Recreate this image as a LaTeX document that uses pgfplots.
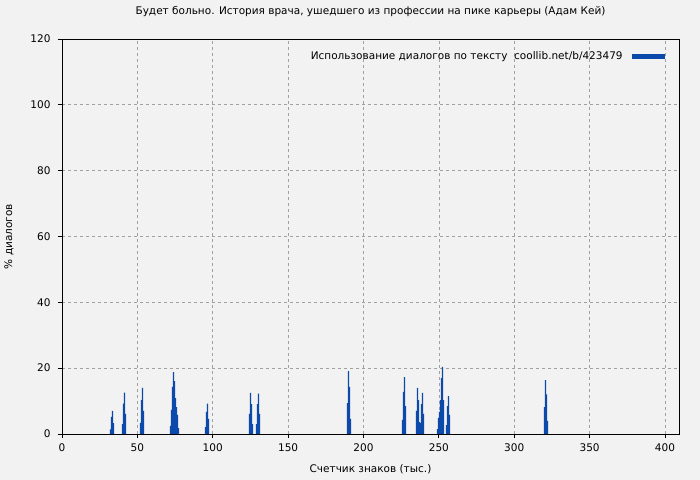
\documentclass[border=0pt]{standalone}
\usepackage{fontspec}
\setmainfont{DejaVu Sans}
\usepackage{pgfplots}
\pgfplotsset{compat=1.18}
\definecolor{bg}{HTML}{F2F2F2}
\definecolor{barblue}{HTML}{0B49AA}
\definecolor{gridgray}{HTML}{A0A0A0}
\begin{document}
\begin{tikzpicture}
\fill[bg] (0,0) rectangle (700bp,480bp);
\useasboundingbox (0,0) rectangle (700bp,480bp);
\begin{axis}[
  at={(62bp,46bp)}, anchor=south west,
  scale only axis, width=617bp, height=395bp,
  xmin=0, xmax=409.3, ymin=0, ymax=120,
  xtick={0,50,...,400}, ytick={0,20,...,120},
  tick align=outside, xtick pos=bottom, ytick pos=left,
  major tick length=4bp,
  axis line style={line width=0.8bp, black},
  major tick style={line width=0.8bp, black},
  grid=major,
  major grid style={dash pattern=on 3bp off 3bp, gridgray, line width=0.7bp},
  axis background/.style={fill=bg},
  /pgf/number format/assume math mode=true,
  tick label style={font=\fontsize{10.5bp}{12bp}\selectfont},
  xticklabel style={yshift=-2bp},
  yticklabel style={xshift=-4bp},
  label style={font=\fontsize{10.5bp}{12bp}\selectfont},
  title style={font=\fontsize{10.5bp}{12bp}\selectfont, at={(axis description cs:0.5,1.0532)}, anchor=center},
  xlabel style={at={(axis description cs:0.5,-0.0886)}, anchor=center},
  ylabel style={at={(axis description cs:-0.0859,0.5)}, anchor=center},
  title={Будет больно. История врача, ушедшего из профессии на пике карьеры (Адам Кей)},
  xlabel={Счетчик знаков (тыс.)},
  ylabel={\% диалогов},
  legend plot pos=right,
  legend style={draw=none, fill=none, at={(axis description cs:0.977,0.973)}, anchor=north east,
    font=\fontsize{10.5bp}{12bp}\selectfont, inner sep=0pt},
  legend image code/.code={\fill[barblue] (0bp,-2.5bp) rectangle (33bp,2.5bp);},
]
\addplot[ybar, bar width=1.05bp, fill=barblue, draw=none] coordinates {
(32.17,1.4) (32.84,5.2) (33.50,7.0) (34.16,3.3)
(40.13,3.0) (40.80,9.2) (41.46,12.6) (42.12,6.1)
(52.07,3.4) (52.74,10.3) (53.40,14.0) (54.06,7.0)
(71.97,2.5) (72.64,7.3) (73.30,14.3) (73.96,18.8) (74.63,16.1) (75.29,10.9) (75.95,8.2) (76.62,5.8) (77.28,1.8)
(95.19,2.1) (95.85,6.7) (96.52,9.2) (97.18,4.6)
(124.38,6.1) (125.04,12.5) (125.70,9.1) (126.37,3.0)
(129.02,3.0) (129.68,9.1) (130.35,12.3) (131.01,6.1)
(189.39,9.4) (190.05,19.1) (190.71,14.3) (191.38,4.6)
(225.87,4.3) (226.53,12.8) (227.20,17.3) (227.86,8.5)
(235.16,7.0) (235.82,14.0) (236.48,10.3) (237.15,3.6) (237.81,3.3) (238.47,9.1) (239.14,12.5) (239.80,6.1)
(249.09,1.5) (249.75,4.9) (250.41,6.7) (251.08,10.3) (251.74,17.0) (252.40,20.4) (253.07,10.3)
(255.06,2.7) (255.72,8.5) (256.38,11.5) (257.05,5.8)
(320.06,8.2) (320.73,16.4) (321.39,12.0) (322.05,4.0)
};
\addlegendentry{Использование диалогов по тексту\ \ coollib.net/b/423479\hspace*{7bp}}
\end{axis}
\end{tikzpicture}
\end{document}
